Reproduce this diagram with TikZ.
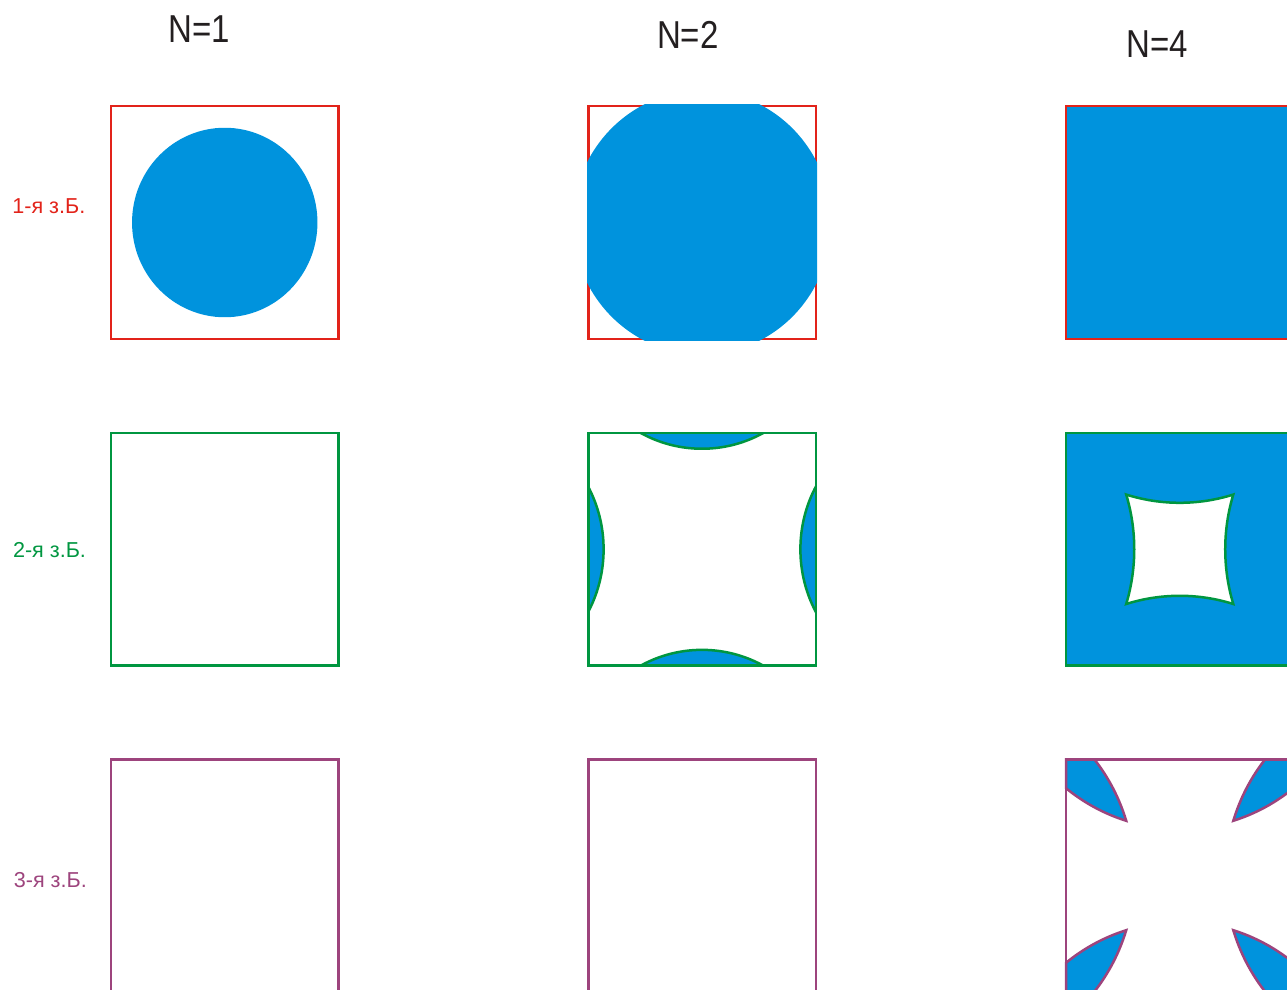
\documentclass[tikz,border=0pt]{standalone}
\usepackage{fontspec}
\setmainfont{Liberation Sans}
\definecolor{bzred}{RGB}{226,35,26}
\definecolor{bzgreen}{RGB}{0,150,64}
\definecolor{bzpurple}{RGB}{157,68,125}
\definecolor{fermi}{RGB}{0,147,221}
\definecolor{ink}{RGB}{35,31,32}
\begin{document}
\begin{tikzpicture}[x=0.5pt,y=-0.5pt,
  edge/.style={line width=1.25pt, line join=miter},
  hdr/.style={font=\fontsize{16.5pt}{18pt}\selectfont, text=ink, inner sep=0pt, yscale=1.18},
  lbl/.style={font=\fontsize{10.8pt}{12pt}\selectfont, inner sep=0pt},
  cell/.style={x=56.875pt, y=58.125pt}]
\useasboundingbox (0,0) rectangle (1287,990);
\clip (0,0) rectangle (1287,990);

% headers
\node[hdr] (h1) at (199.2,28.9) {N=1};
\node[hdr] (h2) at (687.8,34.7) {N=2};
\node[hdr] (h4) at (1157.2,44.3) {N=4};

% row labels
\node[lbl, text=bzred] (z1) at (48.8,205.8) {1-я з.Б.};
\node[lbl, text=bzgreen] (z2) at (49.5,550) {2-я з.Б.};
\node[lbl, text=bzpurple] (z3) at (50.3,880) {3-я з.Б.};

% ---------- row 1 ----------
\begin{scope}[shift={(224.75,222.5)}, cell]
  \draw[edge, bzred] (-1,-1) rectangle (1,1);
  \fill[fermi] (0,0) circle[radius=0.815];
\end{scope}
\begin{scope}[shift={(702,222.5)}, cell]
  \draw[edge, bzred] (-1,-1) rectangle (1,1);
  \begin{scope}
    \clip ([shift={(-0.625pt,-0.625pt)}]-1,-1) rectangle ([shift={(0.625pt,0.625pt)}]1,1);
    \fill[fermi] (0,0) circle[radius=1.135];
  \end{scope}
\end{scope}
\begin{scope}[shift={(1179.75,222.5)}, cell]
  \fill[fermi] (-1,-1) rectangle (1,1);
  \draw[edge, bzred] (-1,-1) rectangle (1,1);
\end{scope}

% ---------- row 2 ----------
\begin{scope}[shift={(224.75,549.3)}, cell]
  \draw[edge, bzgreen] (-1,-1) rectangle (1,1);
\end{scope}
\begin{scope}[shift={(702,549.3)}, cell]
  \begin{scope}
    \clip (-1,-1) rectangle (1,1);
    \filldraw[edge, fill=fermi, draw=bzgreen]
      (0,2) circle[radius=1.135]
      (0,-2) circle[radius=1.135]
      (2,0) circle[radius=1.135]
      (-2,0) circle[radius=1.135];
  \end{scope}
  \draw[edge, bzgreen] (-1,-1) rectangle (1,1);
\end{scope}
\begin{scope}[shift={(1179.75,549.3)}, cell]
  \fill[fermi] (-1,-1) rectangle (1,1);
  \filldraw[edge, fill=white, draw=bzgreen]
    (-0.4708,0.4708)
    arc[start angle=252.89, end angle=287.11, radius=1.6]
    arc[start angle=162.89, end angle=197.11, radius=1.6]
    arc[start angle=72.89, end angle=107.11, radius=1.6]
    arc[start angle=-17.11, end angle=17.11, radius=1.6] -- cycle;
  \draw[edge, bzgreen] (-1,-1) rectangle (1,1);
\end{scope}

% ---------- row 3 ----------
\begin{scope}[shift={(224.75,875.5)}, cell]
  \draw[edge, bzpurple] (-1,-1) rectangle (1,1);
\end{scope}
\begin{scope}[shift={(702,875.5)}, cell]
  \draw[edge, bzpurple] (-1,-1) rectangle (1,1);
\end{scope}
\begin{scope}[shift={(1179.75,875.5)}, cell]
  \foreach \sx/\sy in {1/1,-1/1,1/-1,-1/-1}{
    \filldraw[edge, fill=fermi, draw=bzpurple, xscale=\sx, yscale=\sy]
      (-0.7510,1)
      arc[start angle=38.68, end angle=17.11, radius=1.6]
      arc[start angle=252.89, end angle=231.32, radius=1.6]
      -- (-1,1) -- cycle;
  }
  \draw[edge, bzpurple] (-1,-1) rectangle (1,1);
\end{scope}
\end{tikzpicture}
\end{document}
